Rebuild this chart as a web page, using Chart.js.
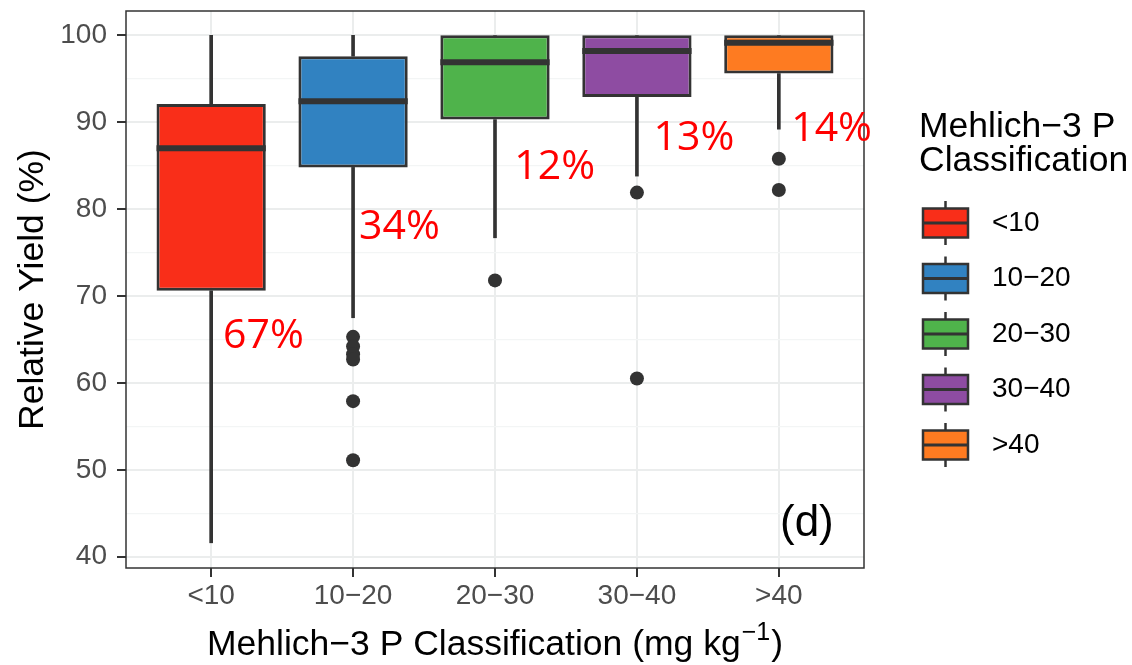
<!DOCTYPE html>
<html><head><meta charset="utf-8">
<script src="https://cdn.jsdelivr.net/npm/chart.js@4.4.1/dist/chart.umd.min.js"></script>
<style>html,body{margin:0;padding:0;background:#fff;}canvas{display:block;}</style>
</head><body>
<canvas id="c" width="1132" height="665"></canvas>
<script>
// ---- data ----
const categories   = ['<10', '10−20', '20−30', '30−40', '>40'];
const whiskerLow   = [41.6, 67.5, 76.7, 83.8, 89.2];
const q1           = [70.6, 84.8, 90.3, 92.9, 95.6];
const median       = [87.0, 92.4, 96.9, 98.2, 99.15];
const q3           = [92.1, 97.6, 100, 100, 100];
const whiskerHigh  = [100, 100, 100, 100, 100];
const outlierCategory = [2, 2, 2, 2, 2, 2, 3, 4, 4, 5, 5];
const outlierValue    = [65.3, 64.2, 63.3, 62.7, 57.9, 51.1, 71.8, 81.9, 60.5, 85.8, 82.2];
const percentLabels = ['67%', '34%', '12%', '13%', '14%'];
const percentLabelX = [1.084, 2.042, 3.136, 4.117, 5.087];
const percentLabelY = [65.7, 78.2, 85.1, 88.5, 89.5];
const yMajorTicks = [40, 50, 60, 70, 80, 90, 100];
const yMinorTicks = [45, 55, 65, 75, 85, 95];
const boxColors = ['#F92E19', '#3182C1', '#4FB34B', '#8E4CA2', '#FE7B21'];

const FONT = "'Liberation Sans', Arial, sans-serif";
const positions = categories.map((c, i) => i + 1);
const GRID = '#EBEDED', GRID_MINOR = '#F3F5F5', DARK = '#333333';
const TITLE_SIZE = 35.5, TEXT_SIZE = 28;

const extras = {
  id: 'boxExtras',
  afterDatasetDraw(chart, args) {
    if (args.index !== 2) return;
    const ctx = chart.ctx, y = chart.scales.y;
    const meta = chart.getDatasetMeta(2);
    ctx.save();
    ctx.strokeStyle = DARK; ctx.lineWidth = 6; ctx.lineCap = 'butt';
    meta.data.forEach((bar, i) => {
      const py = y.getPixelForValue(median[i]);
      const half = bar.width / 2;
      ctx.beginPath(); ctx.moveTo(bar.x - half, py); ctx.lineTo(bar.x + half, py); ctx.stroke();
    });
    ctx.restore();
  },
  afterDraw(chart) {
    const {ctx, chartArea: a, scales: {x, y}} = chart;
    ctx.save();
    // panel border
    ctx.strokeStyle = DARK; ctx.lineWidth = 1.5;
    ctx.strokeRect(a.left, a.top, a.right - a.left, a.bottom - a.top);
    // percent labels
    ctx.font = "41px 'Open Sans'";
    ctx.fillStyle = '#FF0000'; ctx.textAlign = 'left'; ctx.textBaseline = 'alphabetic';
    percentLabels.forEach((t, i) => {
      ctx.fillText(t, x.getPixelForValue(percentLabelX[i]), y.getPixelForValue(percentLabelY[i]) + 14.6);
    });
    // panel tag
    ctx.font = '44px ' + FONT; ctx.fillStyle = '#000';
    ctx.fillText('(d)', a.right - 84, a.bottom - 32);
    // x axis title with superscript
    const main = 'Mehlich−3 P Classification (mg kg', sup = '−1', close = ')';
    ctx.font = TITLE_SIZE + 'px ' + FONT; const wMain = ctx.measureText(main).width; const wClose = ctx.measureText(close).width;
    ctx.font = '25px ' + FONT; const wSup = ctx.measureText(sup).width;
    let sx = (a.left + a.right) / 2 - (wMain + wSup + wClose + 2) / 2;
    const base = 655;
    ctx.font = TITLE_SIZE + 'px ' + FONT; ctx.fillText(main, sx, base); sx += wMain + 1;
    ctx.font = '25px ' + FONT; ctx.fillText(sup, sx, base - 15); sx += wSup + 1;
    ctx.font = TITLE_SIZE + 'px ' + FONT; ctx.fillText(close, sx, base);
    // legend
    ctx.fillText('Mehlich−3 P', 919, 137);
    ctx.fillText('Classification', 919, 171);
    categories.forEach((c, i) => {
      const cy = 223 + i * 55.5, cx = 945.5;
      ctx.strokeStyle = DARK; ctx.lineWidth = 2.5;
      ctx.beginPath(); ctx.moveTo(cx, cy - 22); ctx.lineTo(cx, cy + 22); ctx.stroke();
      ctx.fillStyle = boxColors[i];
      ctx.fillRect(923, cy - 14.5, 45, 29);
      ctx.strokeRect(923, cy - 14.5, 45, 29);
      ctx.lineWidth = 3;
      ctx.beginPath(); ctx.moveTo(923, cy); ctx.lineTo(968, cy); ctx.stroke();
      ctx.fillStyle = '#000'; ctx.font = TEXT_SIZE + 'px ' + FONT; ctx.textBaseline = 'middle';
      ctx.fillText(c, 992, cy);
      ctx.textBaseline = 'alphabetic';
    });
    ctx.restore();
  }
};

Chart.defaults.font.family = FONT;
new Chart(document.getElementById('c'), {
  type: 'bar',
  data: {
    datasets: [
      { label: 'lower whisker', data: positions.map((p, i) => ({x: p, y: [whiskerLow[i], q1[i]]})),
        backgroundColor: DARK, borderWidth: 0, barThickness: 3, grouped: false, order: 3 },
      { label: 'upper whisker', data: positions.map((p, i) => ({x: p, y: [q3[i], whiskerHigh[i]]})),
        backgroundColor: DARK, borderWidth: 0, barThickness: 3, grouped: false, order: 3 },
      { label: 'box', data: positions.map((p, i) => ({x: p, y: [q1[i], q3[i]]})),
        backgroundColor: boxColors, borderColor: DARK, borderWidth: 3, borderSkipped: false,
        barPercentage: 0.77, categoryPercentage: 1, grouped: false, order: 2 },
      { type: 'scatter', label: 'outliers', data: outlierCategory.map((c, i) => ({x: c, y: outlierValue[i]})),
        pointRadius: 7, pointBackgroundColor: DARK, pointBorderWidth: 0, order: 1 }
    ]
  },
  options: {
    responsive: false, animation: false, events: [], devicePixelRatio: 1,
    layout: { padding: { left: 0, top: 11, right: 268, bottom: 0 } },
    plugins: { legend: { display: false }, tooltip: { enabled: false } },
    scales: {
      x: {
        type: 'linear', min: 0.4, max: 5.6, offset: false,
        afterBuildTicks: s => { s.ticks = positions.map(v => ({value: v})); },
        afterFit: s => { s.height = 97; s.paddingLeft = 0; s.paddingRight = 0; },
        ticks: { callback: v => categories[v - 1] ?? '', color: '#4D4D4D', font: {size: TEXT_SIZE}, padding: 2, autoSkip: false, maxRotation: 0 },
        grid: { offset: false, color: GRID, lineWidth: 2, tickColor: DARK, tickLength: 9, tickWidth: 2 },
        border: { display: false },
        title: { display: false }
      },
      y: {
        type: 'linear', min: 38.7, max: 102.8,
        afterBuildTicks: s => { s.ticks = yMajorTicks.concat(yMinorTicks).sort((a, b) => a - b).map(v => ({value: v})); },
        afterFit: s => { s.width = 126; s.paddingTop = 0; s.paddingBottom = 0; },
        ticks: { callback: v => yMajorTicks.includes(v) ? String(v) : '', color: '#4D4D4D', font: {size: TEXT_SIZE}, padding: 10, autoSkip: false },
        grid: {
          color: c => yMajorTicks.includes(c.tick.value) ? GRID : GRID_MINOR,
          lineWidth: c => yMajorTicks.includes(c.tick.value) ? 2 : 1.3,
          tickColor: c => yMajorTicks.includes(c.tick.value) ? DARK : 'rgba(0,0,0,0)',
          tickLength: 9, tickWidth: 2
        },
        border: { display: false },
        title: { display: true, text: 'Relative Yield (%)', color: '#000', font: {size: TITLE_SIZE}, padding: {top: 12, bottom: 0} }
      }
    }
  },
  plugins: [extras]
});
</script>
</body></html>
